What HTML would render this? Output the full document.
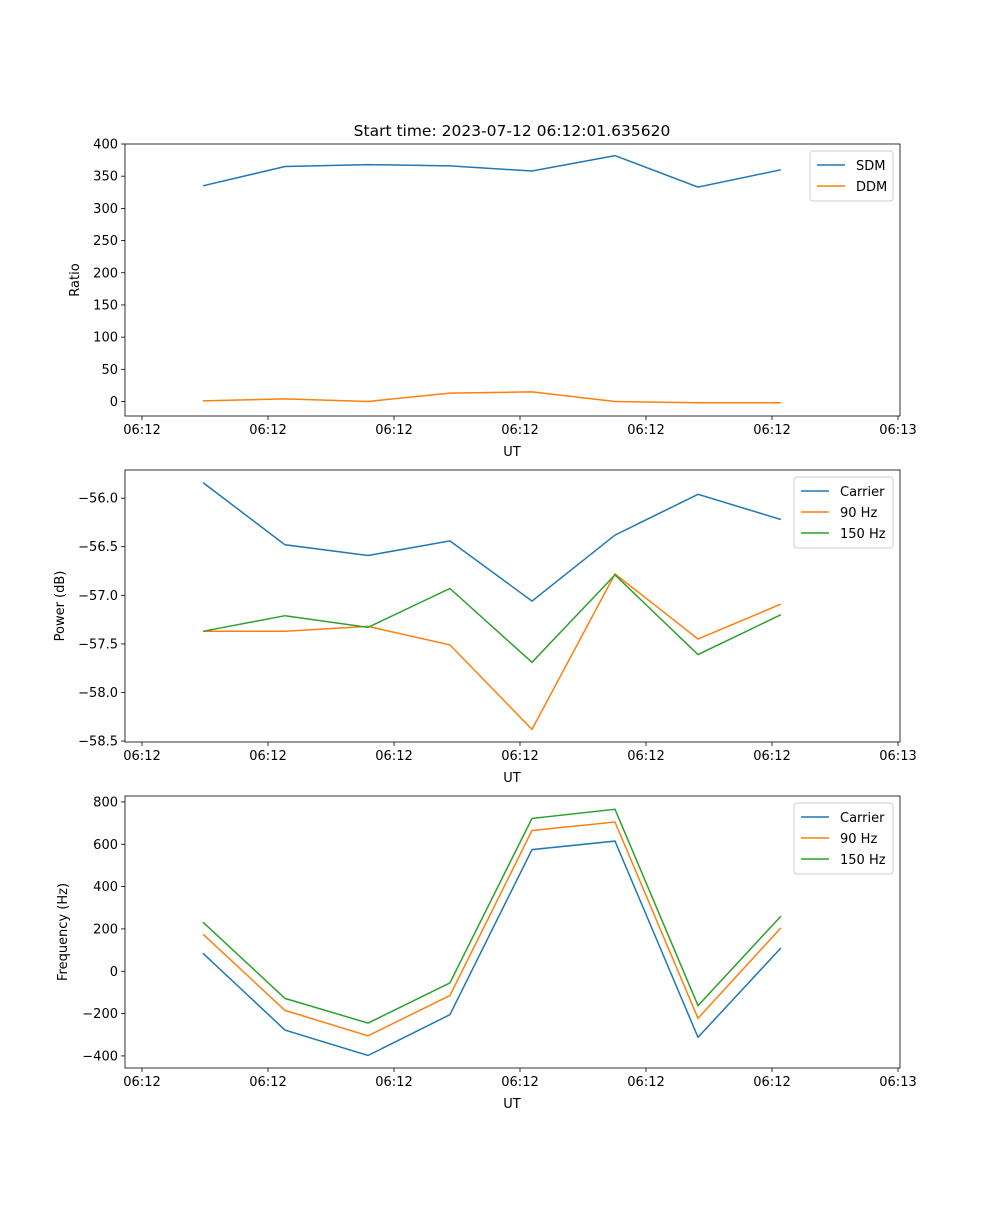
<!DOCTYPE html>
<html><head><meta charset="utf-8"><style>
body{margin:0;background:#fff}
svg text{font-family:"DejaVu Sans","Liberation Sans",sans-serif;font-size:13px;fill:#000}
</style></head><body>
<svg id="chart" width="1000" height="1200" xmlns="http://www.w3.org/2000/svg"></svg>
<script>
const times=[4.84,11.35,17.94,24.44,30.95,37.54,44.13,50.71];
const xTicks=[0,10,20,30,40,50,60];
const xTickLabels=["06:12","06:12","06:12","06:12","06:12","06:12","06:13"];
const sdm=[335,365,368,366,358,382,333,360];
const ddm=[1,4,0,13,15,0,-2,-2];
const pCarrier=[-55.84,-56.48,-56.59,-56.44,-57.06,-56.38,-55.96,-56.22];
const p90=[-57.37,-57.37,-57.32,-57.51,-58.38,-56.78,-57.45,-57.09];
const p150=[-57.37,-57.21,-57.33,-56.93,-57.69,-56.79,-57.61,-57.2];
const fCarrier=[85,-278,-398,-205,575,615,-312,110];
const f90=[175,-185,-305,-115,665,705,-222,205];
const f150=[232,-128,-245,-55,722,765,-162,260];
const ticks1=[0,50,100,150,200,250,300,350,400];
const ticks2=[-58.5,-58.0,-57.5,-57.0,-56.5,-56.0];
const ticks3=[-400,-200,0,200,400,600,800];

const NS="http://www.w3.org/2000/svg";
const svg=document.getElementById('chart');
function el(t,a,p){const e=document.createElementNS(NS,t);for(const k in a)e.setAttribute(k,a[k]);(p||svg).appendChild(e);return e;}
const X0=125,X1=900;
function xs(t){return 142+t*12.6;}
function panel(name,top,bot,ymin,ymax,yt,fmt,ylabel,series,legendW){
  const g=el('g',{});
  
  
  const ys=v=>bot-(v-ymin)/(ymax-ymin)*(bot-top);
  series.forEach(s=>{
    const pts=s.data.map((v,i)=>xs(times[i]).toFixed(1)+','+ys(v).toFixed(1)).join(' ');
    const l=el('polyline',{points:pts,fill:'none',stroke:s.color,'stroke-width':1.5},g);
    
    
  });
  el('rect',{x:X0,y:top,width:X1-X0,height:bot-top,fill:'none',stroke:'#000','stroke-width':0.8},g);
  xTicks.forEach((t,i)=>{const x=xs(t);el('line',{x1:x,x2:x,y1:bot,y2:bot+4,stroke:'#000','stroke-width':0.8},g);
    const tx=el('text',{x:x,y:bot+18,'text-anchor':'middle'},g);tx.textContent=xTickLabels[i];});
  const xl=el('text',{x:512,y:bot+40,'text-anchor':'middle'},g);xl.textContent='UT';
  
  yt.forEach(v=>{const y=ys(v);el('line',{x1:X0-4,x2:X0,y1:y,y2:y,stroke:'#000','stroke-width':0.8},g);
    const tx=el('text',{x:X0-7,y:y+4.5,'text-anchor':'end'},g);tx.textContent=fmt(v);});
  const yl=el('text',{x:0,y:0,'text-anchor':'middle',transform:`translate(${ylabel[1]},${(top+bot)/2}) rotate(-90)`},g);yl.textContent=ylabel[0];
  
  const lh=21,lw=legendW,lx=X1-7-lw,ly=top+7;
  const lg=el('g',{},g);
  el('rect',{x:lx,y:ly,width:lw,height:series.length*lh+8,rx:3,fill:'#fff',stroke:'#ccc'},lg);
  series.forEach((s,i)=>{const y=ly+14+i*lh;el('line',{x1:lx+7,x2:lx+35,y1:y,y2:y,stroke:s.color,'stroke-width':1.5},lg);
    const tx=el('text',{x:lx+46,y:y+5},lg);tx.textContent=s.label;});
}
const B='#1f77b4',O='#ff7f0e',G='#2ca02c';
const t=el('text',{x:512,y:136,'text-anchor':'middle',style:'font-size:15.5px'});t.textContent='Start time: 2023-07-12 06:12:01.635620';

panel('ratio',144,416,-22.5,400,ticks1,v=>v,['Ratio',79],[{key:'sdm',label:'SDM',data:sdm,color:B},{key:'ddm',label:'DDM',data:ddm,color:O}],83);
panel('power',470,742,-58.51,-55.71,ticks2,v=>v.toFixed(1).replace('-','−'),['Power (dB)',64],[{key:'carrier',label:'Carrier',data:pCarrier,color:B},{key:'90hz',label:'90 Hz',data:p90,color:O},{key:'150hz',label:'150 Hz',data:p150,color:G}],99);
panel('frequency',796,1068,-457,828,ticks3,v=>String(v).replace('-','−'),['Frequency (Hz)',67],[{key:'carrier',label:'Carrier',data:fCarrier,color:B},{key:'90hz',label:'90 Hz',data:f90,color:O},{key:'150hz',label:'150 Hz',data:f150,color:G}],99);
</script>
</body></html>
